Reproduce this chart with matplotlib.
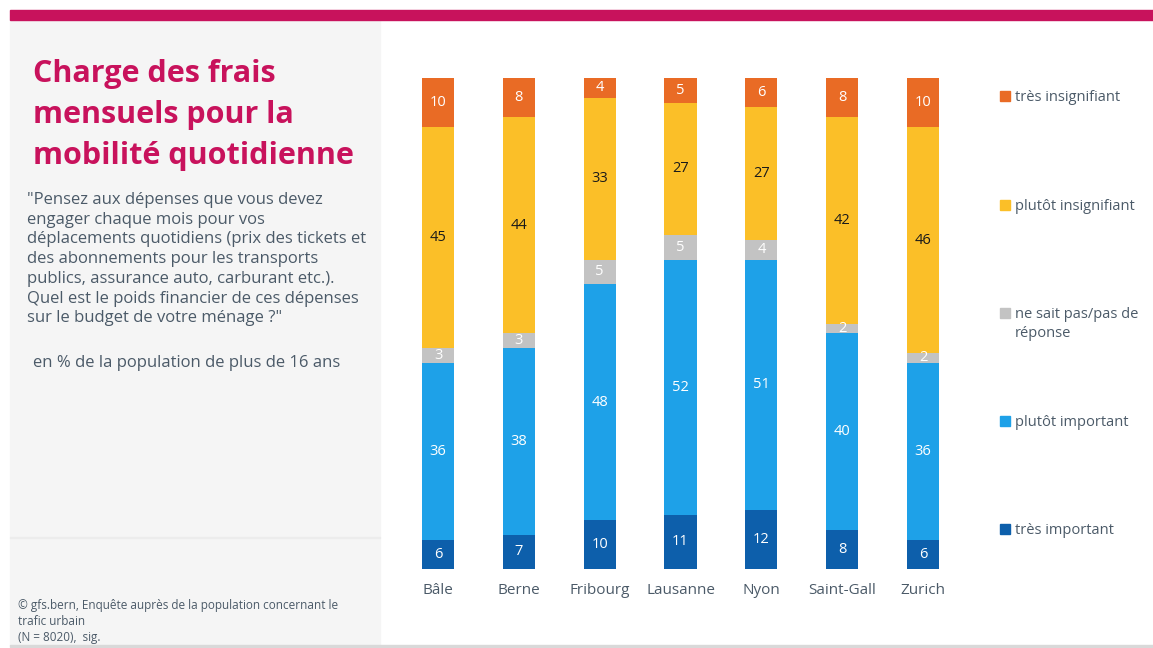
import matplotlib
matplotlib.use("Agg")
import matplotlib.pyplot as plt
from matplotlib.patches import Rectangle

# ---- data ----
cities = ["Bâle", "Berne", "Fribourg", "Lausanne", "Nyon", "Saint-Gall", "Zurich"]
tres_important = [6, 7, 10, 11, 12, 8, 6]
plutot_important = [36, 38, 48, 52, 51, 40, 36]
ne_sait_pas = [3, 3, 5, 5, 4, 2, 2]
plutot_insignifiant = [45, 44, 33, 27, 27, 42, 46]
tres_insignifiant = [10, 8, 4, 5, 6, 8, 10]

series_names = ["très important", "plutôt important", "ne sait pas/pas de\nréponse",
                "plutôt insignifiant", "très insignifiant"]
series_values = [tres_important, plutot_important, ne_sait_pas,
                 plutot_insignifiant, tres_insignifiant]
colors = ["#0D5FAB", "#1EA1E8", "#C3C3C3", "#FBBF28", "#E96B25"]
label_colors = ["white", "white", "white", "#1a1a1a", "white"]

FONT = ["Open Sans", "DejaVu Sans"]
TXT = "#4B5A68"
MAGENTA = "#C8125C"

W, H = 1153, 648
fig = plt.figure(figsize=(W / 100, H / 100), dpi=100)
fig.patch.set_facecolor("white")

def px(x0, y0, w, h):
    return [x0 / W, 1 - (y0 + h) / H, w / W, h / H]

# background decorations
fig.patches.append(Rectangle((10 / W, 1 - 645 / H), 370 / W, 625 / H,
                             transform=fig.transFigure, color="#F5F5F5", zorder=0))
fig.patches.append(Rectangle((10 / W, 1 - 20 / H), (W - 10) / W, 10 / H,
                             transform=fig.transFigure, color=MAGENTA, zorder=1))
fig.patches.append(Rectangle((10 / W, 1 - 647 / H), (W - 10) / W, 2 / H,
                             transform=fig.transFigure, color="#D9D9D9", zorder=1))
fig.patches.append(Rectangle((10 / W, 1 - 538 / H), 370 / W, 1 / H,
                             transform=fig.transFigure, color="#ECECEC", zorder=1))

# title and texts
fig.text(33 / W, 1 - 59 / H, "Charge des frais\nmensuels pour la\nmobilité quotidienne",
         color=MAGENTA, fontsize=22, fontweight="bold", family=FONT,
         va="top", ha="left", linespacing=1.47)
question = ("\"Pensez aux dépenses que vous devez\nengager chaque mois pour vos\n"
            "déplacements quotidiens (prix des tickets et\ndes abonnements pour les transports\n"
            "publics, assurance auto, carburant etc.).\nQuel est le poids financier de ces dépenses\n"
            "sur le budget de votre ménage ?\"")
fig.text(27 / W, 1 - 192 / H, question, color=TXT, fontsize=12, family=FONT,
         va="top", ha="left", linespacing=1.31)
fig.text(33 / W, 1 - 355 / H, "en % de la population de plus de 16 ans", color=TXT,
         fontsize=12, family=FONT, va="top", ha="left")
fig.text(18 / W, 1 - 599 / H,
         "© gfs.bern, Enquête auprès de la population concernant le\ntrafic urbain\n(N = 8020),  sig.",
         color=TXT, fontsize=8.5, family=FONT, va="top", ha="left", linespacing=1.3)

# chart axes
x_left = 438 - 80.83 / 2
x_right = 923 + 80.83 / 2
ax = fig.add_axes(px(x_left, 78, x_right - x_left, 569 - 78))
ax.set_xlim(-0.5, len(cities) - 0.5)
ax.set_ylim(0, 100)
ax.axis("off")

xs = list(range(len(cities)))
bottoms = [0] * len(cities)
for vals, col, lc in zip(series_values, colors, label_colors):
    ax.bar(xs, vals, bottom=bottoms, width=0.4, color=col, edgecolor="none")
    for i, v in enumerate(vals):
        ax.text(xs[i], bottoms[i] + v / 2, str(v), ha="center", va="center",
                color=lc, fontsize=10.5, family=FONT)
    bottoms = [b + v for b, v in zip(bottoms, vals)]

for i, c in enumerate(cities):
    ax.text(xs[i], -4.3, c, ha="center", va="center", color=TXT, fontsize=11,
            family=FONT, transform=ax.transData, clip_on=False)

# legend
leg_y = [529, 421, 313, 205, 96]
for name, col, y in zip(series_names, colors, leg_y):
    fig.patches.append(Rectangle((1000 / W, 1 - (y + 5) / H), 10 / W, 10 / H,
                                 transform=fig.transFigure, color=col))
    fig.text(1015 / W, 1 - (y - 6) / H, name, color=TXT, fontsize=10.5, family=FONT,
             va="top", ha="left", linespacing=1.35)

fig.savefig("out.png", dpi=100)
